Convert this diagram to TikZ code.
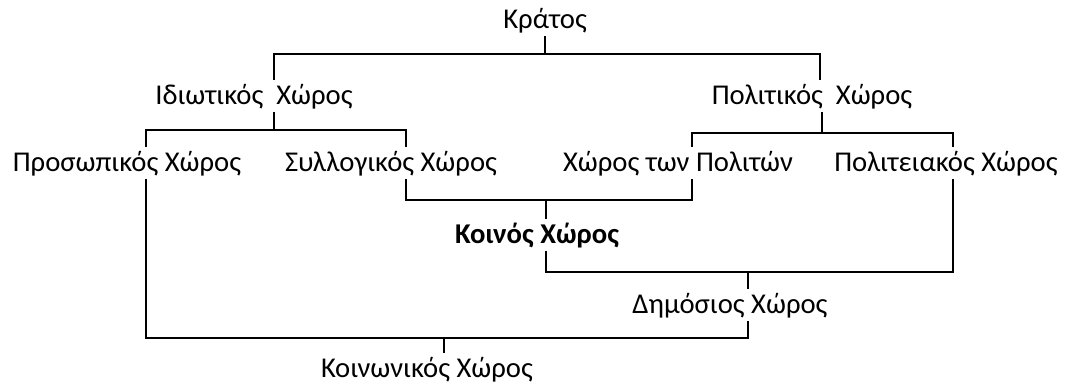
\documentclass[tikz,border=0pt]{standalone}
\usepackage{fontspec}
\setmainfont{Carlito}
\tikzset{
	space tree/.style={
		x=0.75pt, y=-0.75pt,
		line width=1.4pt,
		line cap=rect
		},
	lbl/.style={
		font=\fontsize{21.5}{26}\selectfont,
		inner sep=0pt, anchor=base,
		text height=18pt, text depth=6pt},
	lbl bold/.style={lbl, font=\fontsize{21.5}{26}\selectfont\bfseries}
}

\begin{document}
\begin{tikzpicture}[space tree]
      \useasboundingbox (0,0) rectangle (1070,390);
      \node[lbl] (kratos)     at (545,28)   {Κράτος};
      \node[lbl] (idio)       at (254,104)  {Ιδιωτικός~~Χώρος};
      \node[lbl] (polit)      at (812,104)  {Πολιτικός~~Χώρος};
      \node[lbl] (prosop)     at (127,171)  {Προσωπικός Χώρος};
      \node[lbl] (syllog)     at (391,171)  {Συλλογικός Χώρος};
      \node[lbl] (politon)    at (678,171)  {Χώρος των Πολιτών};
      \node[lbl] (politeia)   at (946,171)  {Πολιτειακός Χώρος};
      \node[lbl bold] (koinos) at (537,243) {Κοινός Χώρος};
      \node[lbl] (dimosios)   at (730,313)  {Δημόσιος Χώρος};
      \node[lbl] (koinonikos) at (427,377)  {Κοινωνικός Χώρος};
      \coordinate (jkr)  at (545,54);
      \coordinate (jid)  at (274,130);
      \coordinate (jpo)  at (822,133);
      \coordinate (jko)  at (546,200);
      \coordinate (jdim) at (748,272);
      \coordinate (jkn)  at (444,338);
      \draw (kratos.south) -- (jkr);
      \draw (idio.north -| jid) |- (jkr) -| (polit.north -| 820,0);
      \draw (idio.south -| jid) -- (jid);
      \draw (prosop.north -| 146,0) |- (jid) -| (syllog.north -| 406,0);
      \draw (polit.south -| jpo) -- (jpo);
      \draw (politon.north -| 692,0) |- (jpo) -| (politeia.north -| 953,0);
      \draw (syllog.south -| 406,0) |- (jko) -| (politon.south -| 692,0);
      \draw (jko) -- (koinos.north -| jko);
      \draw (koinos.south -| jko) |- (jdim) -| (politeia.south -| 953,0);
      \draw (jdim) -- (dimosios.north -| jdim);
      \draw (prosop.south -| 146,0) |- (jkn) -| (dimosios.south -| jdim);
      \draw (jkn) -- (koinonikos.north -| jkn);
\end{tikzpicture}
\end{document}
